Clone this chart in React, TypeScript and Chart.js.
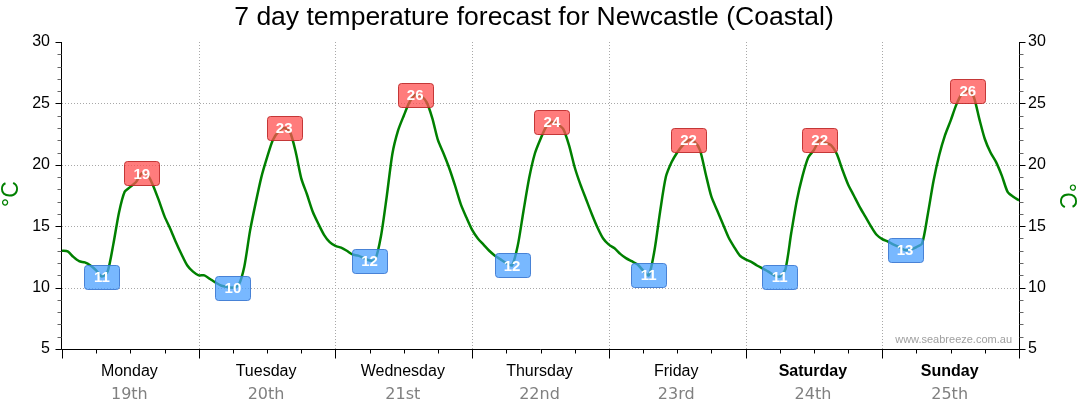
import React, { useEffect, useRef } from "react";
import { Chart, registerables } from "chart.js";

Chart.register(...registerables);

const chartTitle = "7 day temperature forecast for Newcastle (Coastal)";
const axisTitle = "°C";
const watermark = "www.seabreeze.com.au";

const dayNames = ["Monday", "Tuesday", "Wednesday", "Thursday", "Friday", "Saturday", "Sunday"];
const dayDates = ["19th", "20th", "21st", "22nd", "23rd", "24th", "25th"];
const boldDays = ["Saturday", "Sunday"];

// hourly temperatures (°C), one array per day, starting at midnight
const monTemps = [13.0, 12.95, 12.5, 12.15, 12.05, 11.8, 11.4, 10.9, 11.3, 13.5, 16.1, 17.8, 18.2, 18.6, 19.3, 19.2, 18.3, 17.1, 15.8, 14.8, 13.7, 12.7, 11.8, 11.3];
const tueTemps = [11.0, 11.0, 10.7, 10.4, 10.15, 10.05, 10.0, 10.2, 11.7, 14.6, 16.9, 19.0, 20.6, 22.0, 22.7, 23.0, 22.7, 21.1, 18.9, 17.6, 16.2, 15.2, 14.3, 13.7];
const wedTemps = [13.4, 13.25, 13.0, 12.7, 12.6, 12.4, 12.2, 12.3, 14.2, 17.4, 20.9, 22.8, 24.0, 25.1, 25.7, 25.6, 25.1, 23.8, 22.0, 20.9, 19.7, 18.3, 16.8, 15.7];
const thuTemps = [14.7, 14.0, 13.5, 13.0, 12.6, 12.3, 12.0, 11.8, 13.4, 16.2, 18.9, 20.9, 22.1, 23.1, 23.5, 23.3, 22.9, 21.6, 19.8, 18.4, 17.2, 16.0, 14.9, 14.0];
const friTemps = [13.5, 13.2, 12.75, 12.4, 12.15, 11.9, 11.4, 11.0, 13.0, 16.2, 19.0, 20.2, 21.0, 21.6, 22.0, 21.9, 21.2, 19.25, 17.4, 16.3, 15.2, 14.1, 13.3, 12.6];
const satTemps = [12.3, 12.1, 11.8, 11.55, 11.3, 11.0, 10.9, 11.5, 14.4, 17.1, 19.1, 20.6, 21.2, 22.0, 21.8, 21.6, 20.9, 19.6, 18.4, 17.5, 16.6, 15.8, 15.0, 14.3];
const sunTemps = [13.95, 13.75, 13.5, 13.3, 13.05, 13.1, 13.3, 13.6, 16.0, 18.7, 20.8, 22.4, 23.6, 24.9, 25.8, 26.0, 25.6, 23.8, 22.1, 21.0, 20.2, 19.1, 17.8, 17.4];
const endTemp = [17.1];

// daily max / min labels and the hour they occur at
const maxLabels = [19, 23, 26, 24, 22, 22, 26];
const maxHours = [14, 39, 62, 86, 110, 133, 159];
const minLabels = [11, 10, 12, 12, 11, 11, 13];
const minHours = [7, 30, 54, 79, 103, 126, 148];

const yTickValues = [5, 10, 15, 20, 25, 30];
const gridTemps = [10, 15, 20, 25];

const allTemps = [...monTemps, ...tueTemps, ...wedTemps, ...thuTemps, ...friTemps, ...satTemps, ...sunTemps, ...endTemp];
const points = allTemps.map((t, h) => ({ x: h, y: t }));

function roundRect(ctx: CanvasRenderingContext2D, x: number, y: number, w: number, h: number, r: number) {
  ctx.beginPath();
  ctx.moveTo(x + r, y);
  ctx.lineTo(x + w - r, y);
  ctx.quadraticCurveTo(x + w, y, x + w, y + r);
  ctx.lineTo(x + w, y + h - r);
  ctx.quadraticCurveTo(x + w, y + h, x + w - r, y + h);
  ctx.lineTo(x + r, y + h);
  ctx.quadraticCurveTo(x, y + h, x, y + h - r);
  ctx.lineTo(x, y + r);
  ctx.quadraticCurveTo(x, y, x + r, y);
  ctx.closePath();
}

const overlayPlugin = {
  id: "overlay",
  beforeDatasetsDraw(chart: any) {
    const { ctx, chartArea, scales } = chart;
    const { left, right, top, bottom } = chartArea;
    const x = scales.x;
    const y = scales.y;
    ctx.save();
    ctx.strokeStyle = "#a8a8a8";
    ctx.lineWidth = 1;
    ctx.setLineDash([1, 2]);
    for (const v of gridTemps) {
      const py = Math.round(y.getPixelForValue(v)) + 0.5;
      ctx.beginPath();
      ctx.moveTo(left, py);
      ctx.lineTo(right, py);
      ctx.stroke();
    }
    for (let d = 1; d < dayNames.length; d++) {
      const px = Math.round(x.getPixelForValue(d * 24)) + 0.5;
      ctx.beginPath();
      ctx.moveTo(px, top);
      ctx.lineTo(px, bottom);
      ctx.stroke();
    }
    ctx.restore();
  },
  afterDatasetsDraw(chart: any) {
    const { ctx, chartArea, scales } = chart;
    const { left, right, top, bottom } = chartArea;
    const x = scales.x;
    const y = scales.y;
    ctx.save();

    // min / max label boxes
    const drawBox = (hour: number, label: number, fill: string, stroke: string) => {
      const px = x.getPixelForValue(hour);
      const py = y.getPixelForValue(allTemps[hour]);
      const w = 35;
      const h = 24;
      roundRect(ctx, Math.round(px - w / 2) + 0.5, Math.round(py - h / 2) + 0.5, w, h, 3);
      ctx.fillStyle = fill;
      ctx.fill();
      ctx.strokeStyle = stroke;
      ctx.lineWidth = 1;
      ctx.stroke();
      ctx.fillStyle = "#ffffff";
      ctx.font = 'bold 15px "Liberation Sans"';
      ctx.textAlign = "center";
      ctx.textBaseline = "middle";
      ctx.fillText(String(label), px, py + 1);
    };
    maxHours.forEach((h, i) => drawBox(h, maxLabels[i], "rgba(255, 80, 80, 0.75)", "rgba(190, 40, 40, 0.9)"));
    minHours.forEach((h, i) => drawBox(h, minLabels[i], "rgba(75, 160, 255, 0.75)", "rgba(60, 120, 210, 0.9)"));

    // axis lines
    ctx.strokeStyle = "#000";
    ctx.lineWidth = 1;
    ctx.beginPath();
    ctx.moveTo(left - 0.5, top);
    ctx.lineTo(left - 0.5, bottom + 0.5);
    ctx.lineTo(right + 0.5, bottom + 0.5);
    ctx.lineTo(right + 0.5, top);
    ctx.stroke();

    // y ticks (major and minor) on both sides
    for (let v = 5; v <= 30; v++) {
      const major = v % 5 === 0;
      const len = major ? 6 : 4;
      const py = Math.round(y.getPixelForValue(v)) + 0.5;
      ctx.strokeStyle = major ? "#000" : "#666";
      ctx.beginPath();
      ctx.moveTo(left - 0.5 - len, py);
      ctx.lineTo(left - 0.5, py);
      ctx.moveTo(right + 0.5, py);
      ctx.lineTo(right + 0.5 + len, py);
      ctx.stroke();
    }
    // x ticks
    for (let h = 0; h <= 168; h += 6) {
      const major = h % 24 === 0;
      const len = major ? 9 : 4;
      const px = Math.round(x.getPixelForValue(h)) + 0.5;
      ctx.strokeStyle = "#000";
      ctx.beginPath();
      ctx.moveTo(px, bottom + 0.5);
      ctx.lineTo(px, bottom + 0.5 + len);
      ctx.stroke();
    }

    // x labels
    ctx.textAlign = "center";
    ctx.textBaseline = "alphabetic";
    dayNames.forEach((name, d) => {
      const cx = x.getPixelForValue(d * 24 + 12) - 1;
      ctx.fillStyle = "#000";
      ctx.font = (boldDays.includes(name) ? "bold " : "") + '16px "Liberation Sans"';
      ctx.fillText(name, cx, bottom + 27);
      ctx.fillStyle = "#808080";
      ctx.font = '16px "DejaVu Sans"';
      ctx.fillText(dayDates[d], cx, bottom + 50);
    });

    // title
    ctx.fillStyle = "#000";
    ctx.font = '26.5px "Liberation Sans"';
    ctx.fillText(chartTitle, 534, 25);

    // watermark
    ctx.fillStyle = "#a0a0a0";
    ctx.font = '11px "Liberation Sans"';
    ctx.textAlign = "right";
    ctx.fillText(watermark, right - 7, bottom - 6);

    // axis titles
    ctx.fillStyle = "#008000";
    ctx.font = '23px "Liberation Sans"';
    ctx.textAlign = "center";
    ctx.textBaseline = "middle";
    ctx.save();
    ctx.translate(12, 194);
    ctx.rotate(-Math.PI / 2);
    ctx.fillText(axisTitle, 0, 0);
    ctx.restore();
    ctx.save();
    ctx.translate(1066, 196);
    ctx.rotate(Math.PI / 2);
    ctx.fillText(axisTitle, 0, 0);
    ctx.restore();

    ctx.restore();
  },
};

export default function App() {
  const canvasRef = useRef<HTMLCanvasElement | null>(null);

  useEffect(() => {
    if (!canvasRef.current) return;
    const tickFont = { family: "Liberation Sans", size: 16 };
    const chart = new Chart(canvasRef.current, {
      type: "line",
      data: {
        datasets: [
          {
            data: points,
            borderColor: "#008000",
            borderWidth: 2.5,
            pointRadius: 0,
            tension: 0.25,
            fill: false,
            yAxisID: "y",
          },
        ],
      },
      options: {
        responsive: false,
        animation: false,
        devicePixelRatio: 1,
        layout: { padding: { top: 42, left: 0, right: 0, bottom: 0 } },
        plugins: {
          legend: { display: false },
          tooltip: { enabled: false },
          title: { display: false },
        },
        scales: {
          x: {
            type: "linear",
            min: 0,
            max: 168,
            grid: { display: false },
            border: { display: false },
            ticks: { display: false },
            afterFit(s: any) {
              s.height = 65;
            },
          },
          y: {
            position: "left",
            min: 5,
            max: 30,
            afterBuildTicks(s: any) {
              s.ticks = yTickValues.map((v) => ({ value: v }));
            },
            ticks: { font: tickFont, color: "#000", padding: 12 },
            grid: { display: false, drawTicks: false },
            border: { display: false },
            afterFit(s: any) {
              s.width = 62;
            },
          },
          y2: {
            position: "right",
            min: 5,
            max: 30,
            afterBuildTicks(s: any) {
              s.ticks = yTickValues.map((v) => ({ value: v }));
            },
            ticks: { font: tickFont, color: "#000", padding: 9 },
            grid: { display: false, drawTicks: false },
            border: { display: false },
            afterFit(s: any) {
              s.width = 61;
            },
          },
        },
      } as any,
      plugins: [overlayPlugin],
    });
    return () => chart.destroy();
  }, []);

  return (
    <div style={{ position: "absolute", left: 0, top: 0, width: 1080, height: 414, background: "#fff" }}>
      <canvas ref={canvasRef} width={1080} height={414} style={{ display: "block" }} />
    </div>
  );
}
